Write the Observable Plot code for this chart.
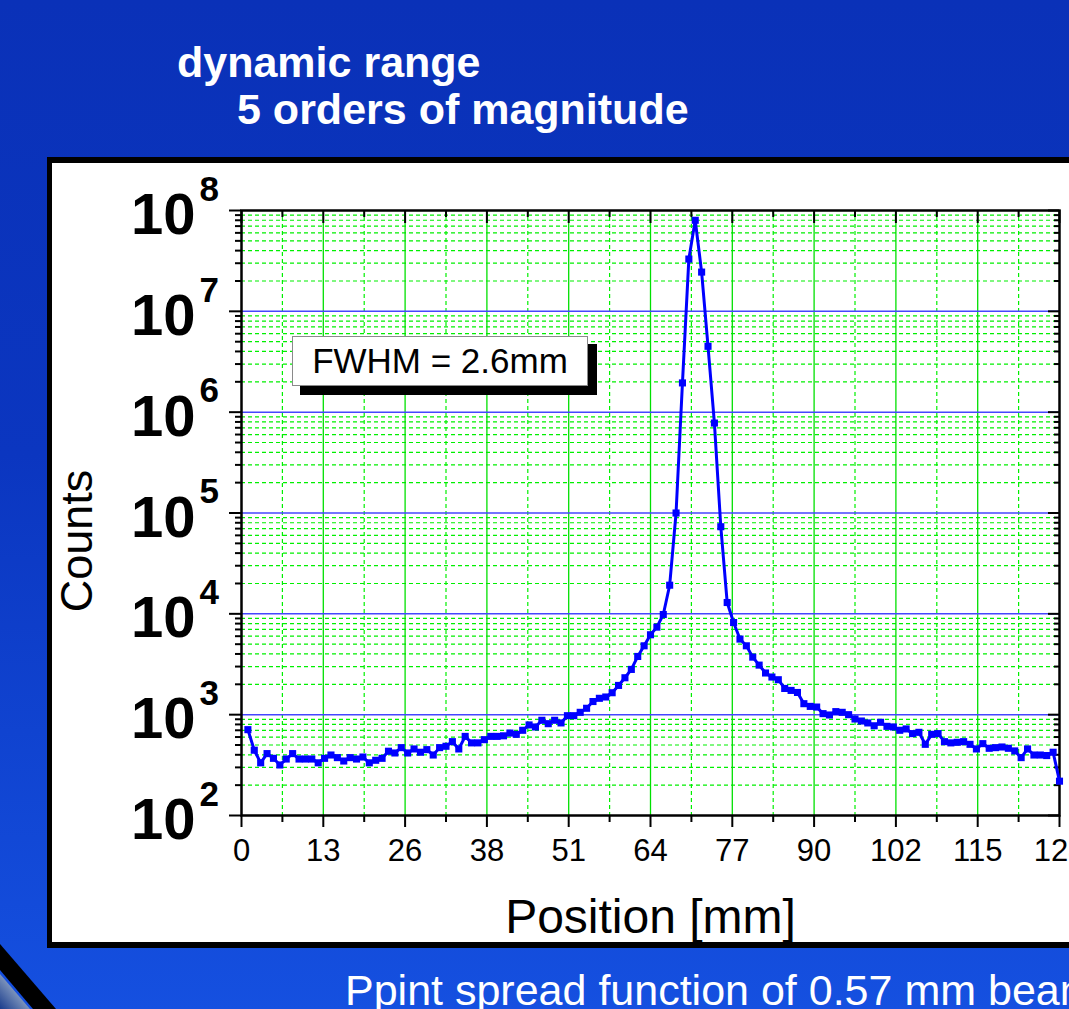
<!DOCTYPE html>
<html>
<head>
<meta charset="utf-8">
<script src="https://cdn.jsdelivr.net/npm/d3@7"></script>
<script src="https://cdn.jsdelivr.net/npm/@observablehq/plot@0.6"></script>
<style>
  html, body { margin: 0; padding: 0; width: 1069px; height: 1009px; overflow: hidden; }
  body {
    position: relative;
    background: linear-gradient(to bottom, #0a31b8 0%, #0b36c0 45%, #1550e0 100%);
    font-family: "Liberation Sans", Arial, sans-serif;
  }
  .title { position: absolute; color: #fff; font-weight: bold; font-size: 43px; line-height: 43px; white-space: nowrap; }
  #panel { position: absolute; left: 47px; top: 157px; width: 1100px; height: 779px; background: #fff;
           border: 6px solid #000; border-left-width: 5px; }
  #chart { position: absolute; left: 0; top: 163px; }
  #fwhm-shadow { position: absolute; left: 300px; top: 344px; width: 297px; height: 51px; background: #000; }
  #fwhm { position: absolute; left: 292px; top: 336px; width: 294px; height: 48px; background: #fff;
          border: 1px solid #8a8a8a; font-size: 35px; color: #000; display: flex; align-items: center;
          justify-content: center; white-space: nowrap; }
  #caption { position: absolute; left: 345px; top: 969px; color: #fff; font-size: 43px; line-height: 42px; white-space: nowrap; }
  #ornament { position: absolute; left: 0; top: 0; }
</style>
</head>
<body>
<svg id="ornament" width="1069" height="1009">
  <defs>
    <linearGradient id="og" x1="0" y1="1" x2="1" y2="0">
      <stop offset="0" stop-color="#1a3c8c"/>
      <stop offset="0.6" stop-color="#8ea3c4"/>
      <stop offset="1" stop-color="#5a78b0"/>
    </linearGradient>
  </defs>
  <polygon points="0,974 30,1009 0,1009" fill="url(#og)"/>
  <polygon points="0,944 56,1009 33,1009 0,970" fill="#000"/>
</svg>
<div class="title" style="left:177px; top:41px;">dynamic range</div>
<div class="title" style="left:237px; top:88px;">5 orders of magnitude</div>
<div id="panel"></div>
<div id="chart"></div>
<div id="fwhm-shadow"></div>
<div id="fwhm">FWHM = 2.6mm</div>
<div id="caption">Ppint spread function of 0.57 mm beam</div>
<script>
// ---- data ----
const positionMm = [1,2,3,4,5,6,7,8,9,10,11,12,13,14,15,16,17,18,19,20,21,22,23,24,25,26,27,28,29,30,31,32,
  33,34,35,36,37,38,39,40,41,42,43,44,45,46,47,48,49,50,51,52,53,54,55,56,57,58,59,60,61,62,63,64,
  65,66,67,68,69,70,71,72,73,74,75,76,77,78,79,80,81,82,83,84,85,86,87,88,89,90,91,92,93,94,95,96,
  97,98,99,100,101,102,103,104,105,106,107,108,109,110,111,112,113,114,115,116,117,118,119,120,121,122,123,124,125,126,127,128];
const counts = [710,444,333,411,369,317,363,411,363,363,363,333,369,398,375,347,375,363,380,333,353,369,434,417,471,417,457,424,450,398,471,486,
  540,457,609,525,525,565,609,609,617,657,638,700,791,755,880,814,880,828,977,977,1055,1157,1350,1453,1497,1650,1950,2323,2810,3778,4818,6200,
  7380,9840,19230,100000,1950000,33000000,80000000,24500000,4500000,780000,73100,12950,8200,5620,4818,3720,3100,2590,2362,2221,1820,1740,1660,1285,1208,1190,1024,993,1072,1055,1000,906,
  865,828,776,840,766,755,700,722,649,668,508,638,649,540,525,532,540,508,457,516,464,471,478,464,437,375,457,398,398,393,424,219];

const yDecades = [1e2, 1e3, 1e4, 1e5, 1e6, 1e7, 1e8];
const yExponents = ["2", "3", "4", "5", "6", "7", "8"];
const xMajorTicks = [0, 12.8, 25.6, 38.4, 51.2, 64, 76.8, 89.6, 102.4, 115.2, 128];
const xTickLabels = ["0", "13", "26", "38", "51", "64", "77", "90", "102", "115", "128"];
const xMinorTicks = [6.4, 19.2, 32, 44.8, 57.6, 70.4, 83.2, 96, 108.8, 121.6];
const yMinor = [];
for (let k = 2; k < 8; k++) for (let m = 2; m <= 9; m++) yMinor.push(m * Math.pow(10, k));

const data = positionMm.map((x, i) => ({x, y: counts[i]}));
const yTickData = yDecades.map((v, i) => ({v, e: yExponents[i]}));
const xTickData = xMajorTicks.map((v, i) => ({v, t: xTickLabels[i]}));
const innerDecades = yDecades.slice(1, -1);
const innerMajorX = xMajorTicks.slice(1, -1);

const W = 1069, H = 780, ML = 241, MR = 10, MT = 47, MB = 128;
const FW = W - ML - MR, FH = H - MT - MB;

const chart = Plot.plot({
  width: W, height: H,
  marginLeft: ML, marginRight: MR, marginTop: MT, marginBottom: MB,
  style: {background: "transparent", fontFamily: "'Liberation Sans', Arial, sans-serif", color: "#000", overflow: "visible"},
  x: {domain: [0, 128], axis: null},
  y: {type: "log", domain: [1e2, 1e8], axis: null},
  marks: [
    // grid
    Plot.ruleX(xMinorTicks, {stroke: "#00f000", strokeWidth: 1.2, strokeDasharray: "4,3"}),
    Plot.ruleY(yMinor, {stroke: "#00f000", strokeWidth: 1.2, strokeDasharray: "4,3"}),
    Plot.ruleX(innerMajorX, {stroke: "#00e000", strokeWidth: 1.3}),
    Plot.ruleY(innerDecades, {stroke: "#4646ff", strokeWidth: 1.5}),
    // top ticks (inward)
    Plot.ruleX(xMajorTicks, {stroke: "#000", strokeWidth: 2, insetBottom: FH - 13}),
    Plot.ruleX(xMinorTicks, {stroke: "#000", strokeWidth: 2, insetBottom: FH - 7}),
    // bottom ticks (outward)
    Plot.ruleX(xMajorTicks, {stroke: "#000", strokeWidth: 2, insetTop: FH, insetBottom: -12}),
    Plot.ruleX(xMinorTicks, {stroke: "#000", strokeWidth: 2, insetTop: FH, insetBottom: -7}),
    // left ticks (outward)
    Plot.ruleY(yDecades, {stroke: "#000", strokeWidth: 2, insetLeft: -12, insetRight: FW}),
    Plot.ruleY(yMinor, {stroke: "#000", strokeWidth: 2, insetLeft: -6, insetRight: FW}),
    // right ticks (inward)
    Plot.ruleY(yDecades, {stroke: "#000", strokeWidth: 2, insetLeft: FW - 11}),
    Plot.ruleY(yMinor, {stroke: "#000", strokeWidth: 2, insetLeft: FW - 5}),
    Plot.frame({stroke: "#000", strokeWidth: 2.5}),
    // data
    Plot.line(data, {x: "x", y: "y", stroke: "#0000ff", strokeWidth: 3}),
    Plot.dot(data, {x: "x", y: "y", symbol: "square", r: 4, fill: "#0000ff", stroke: "none"}),
    // y tick labels 10^n
    Plot.text(yTickData, {y: "v", text: () => "10", frameAnchor: "left", textAnchor: "end", lineAnchor: "middle",
      dx: -46, dy: 5, fontSize: 58, fontWeight: "bold", fill: "#000"}),
    Plot.text(yTickData, {y: "v", text: "e", frameAnchor: "left", textAnchor: "start", lineAnchor: "middle",
      dx: -42, dy: -21, fontSize: 35, fontWeight: "bold", fill: "#000"}),
    // x tick labels
    Plot.text(xTickData, {x: "v", text: "t", frameAnchor: "bottom", lineAnchor: "middle", dy: 36, fontSize: 31, fill: "#000"}),
    // axis titles
    Plot.text(["Counts"], {text: d => d, frameAnchor: "left", textAnchor: "middle", lineAnchor: "middle",
      rotate: -90, dx: -164, dy: 28, fontSize: 45, fill: "#000"}),
    Plot.text(["Position [mm]"], {text: d => d, frameAnchor: "bottom", textAnchor: "middle", lineAnchor: "middle",
      dy: 102, fontSize: 48, fill: "#000"})
  ]
});
document.getElementById("chart").appendChild(chart);
</script>
</body>
</html>
